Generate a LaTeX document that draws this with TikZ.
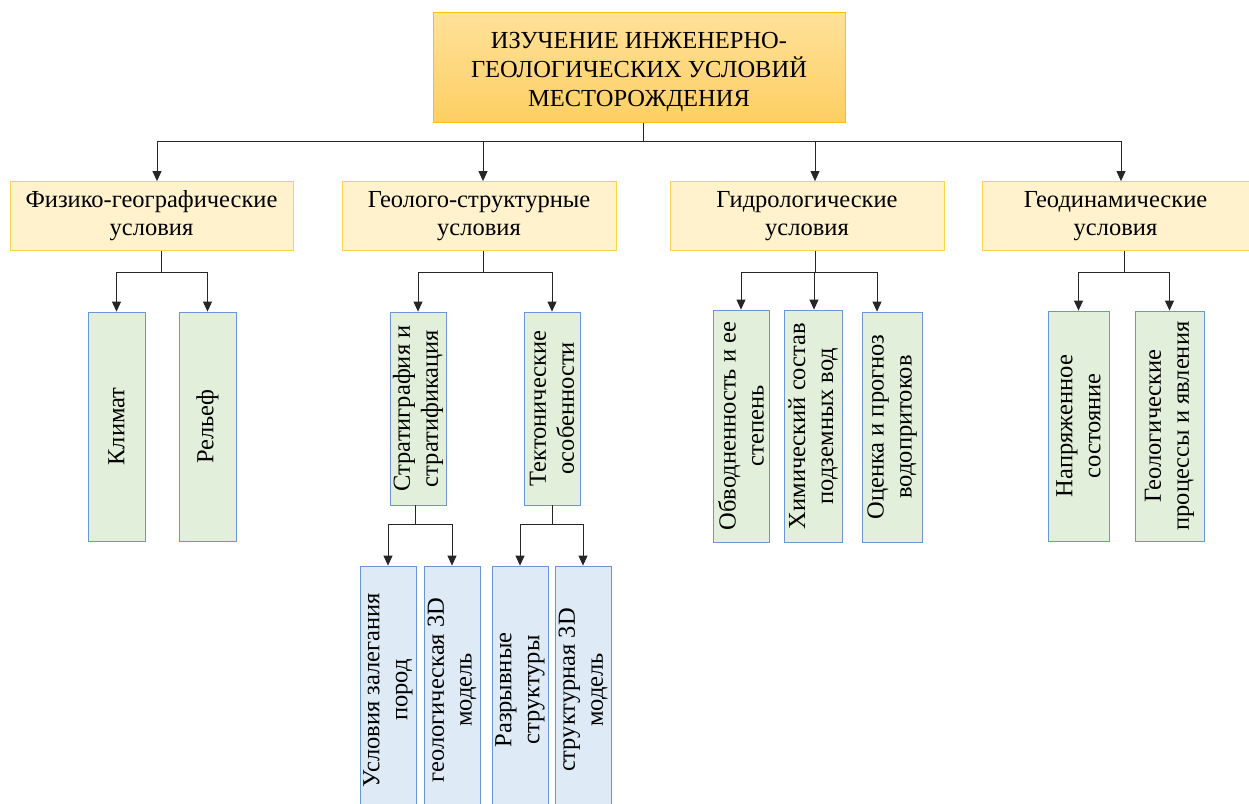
\documentclass[tikz,border=0pt]{standalone}
\usepackage{fontspec}
\setmainfont{Liberation Serif}
\usetikzlibrary{arrows.meta}

\definecolor{goldline}{HTML}{FFC000}
\definecolor{goldtop}{HTML}{FFE19A}
\definecolor{goldbot}{HTML}{FDCF63}
\definecolor{yelline}{HTML}{FFD24D}
\definecolor{yelfill}{HTML}{FFF2CC}
\definecolor{blueline}{HTML}{6A96D8}
\definecolor{greenfill}{HTML}{E2EFDA}
\definecolor{bluefill}{HTML}{DEEBF7}

\tikzset{
  topbox/.style={draw=goldline, line width=1pt, top color=goldtop, bottom color=goldbot,
    minimum width=412, minimum height=110, align=center, inner sep=0,
    font=\fontsize{24.5}{29}\selectfont},
  groupbox/.style={draw=yelline, line width=0.8pt, fill=yelfill, minimum height=69,
    align=center, inner sep=0, font=\fontsize{24.5}{28}\selectfont},
  leafbox/.style={draw=blueline, line width=0.8pt, fill=greenfill, rotate=90,
    align=center, inner sep=0, font=\fontsize{24.5}{28}\selectfont},
  subbox/.style={leafbox, fill=bluefill},
  arr/.style={-{Triangle[length=10pt,width=9pt]}, line width=0.8pt, draw=black!85}
}

\begin{document}
\begin{tikzpicture}[x=1pt,y=-1pt]
\useasboundingbox (0,0) rectangle (1249,803);
\clip (0,0) rectangle (1249,803);

% main box
\node[topbox] (main) at (639,67) {\parbox{400pt}{\centering\vspace*{10pt}ИЗУЧЕНИЕ ИНЖЕНЕРНО-\\ГЕОЛОГИЧЕСКИХ УСЛОВИЙ\\МЕСТОРОЖДЕНИЯ}};

% groups
\node[groupbox, minimum width=283] (phys) at (151.5,216) {Физико-географические\\условия};
\node[groupbox, minimum width=274] (geol) at (479,216) {Геолого-структурные\\условия};
\node[groupbox, minimum width=274] (hydro) at (807,216) {Гидрологические\\условия};
\node[groupbox, minimum width=267] (geodyn) at (1115.5,216) {Геодинамические\\условия};

% bus
\draw[line width=0.8pt, black!85] ([xshift=4]main.south) -- ++(0,19) coordinate (bus);
\draw[arr] (bus) -| ([xshift=5.5]phys.north);
\draw[arr] (bus) -| ([xshift=4]geol.north);
\draw[arr] (bus) -| ([xshift=8]hydro.north);
\draw[arr] (bus) -| ([xshift=5.5]geodyn.north);

% physical geography
\node[leafbox, minimum width=229, minimum height=57] (klimat) at (116.5,426.5) {Климат};
\node[leafbox, minimum width=229, minimum height=57] (relief) at (207.5,426.5) {Рельеф};
\draw[arr] ([xshift=9.5]phys.south) -- ++(0,21) -| (klimat.east);
\draw[arr] ([xshift=9.5]phys.south) -- ++(0,21) -| (relief.east);

% geological structure
\node[leafbox, minimum width=193, minimum height=56] (strat) at (418,408.5) {Стратиграфия и\\стратификация};
\node[leafbox, minimum width=193, minimum height=56] (tekt) at (552,408.5) {Тектонические\\особенности};
\draw[arr] ([xshift=4]geol.south) -- ++(0,21) -| (strat.east);
\draw[arr] ([xshift=4]geol.south) -- ++(0,21) -| (tekt.east);

\node[subbox, minimum width=248, minimum height=56] (uslov) at (388,690) {Условия залегания\\пород};
\node[subbox, minimum width=248, minimum height=56] (geomod) at (452,690) {геологическая 3D\\модель};
\node[subbox, minimum width=248, minimum height=56] (razryv) at (520,690) {Разрывные\\структуры};
\node[subbox, minimum width=248, minimum height=56] (strmod) at (583,690) {структурная 3D\\модель};
\draw[arr] ([xshift=-3]strat.west) -- ++(0,19) -| (uslov.east);
\draw[arr] ([xshift=-3]strat.west) -- ++(0,19) -| (geomod.east);
\draw[arr] (tekt.west) -- ++(0,19) -| (razryv.east);
\draw[arr] (tekt.west) -- ++(0,19) -| (strmod.east);

% hydrology
\node[leafbox, minimum width=232, minimum height=56] (obvod) at (741,426) {Обводненность и ее\\степень};
\node[leafbox, minimum width=232, minimum height=58] (chem) at (813,426) {Химический состав\\подземных вод};
\node[leafbox, minimum width=230, minimum height=60] (ocenka) at (892,427) {Оценка и прогноз\\водопритоков};
\draw[arr] ([xshift=8]hydro.south) -- ++(0,21) -| (obvod.east);
\draw[arr] ([xshift=8]hydro.south) -- ++(0,21) -| ([xshift=1]chem.east);
\draw[arr] ([xshift=8]hydro.south) -- ++(0,21) -| ([xshift=-15]ocenka.east);

% geodynamics
\node[leafbox, minimum width=230, minimum height=61] (napr) at (1078.5,426) {Напряженное\\состояние};
\node[leafbox, minimum width=230, minimum height=69] (proc) at (1169.5,426) {Геологические\\процессы и явления};
\draw[arr] ([xshift=8.5]geodyn.south) -- ++(0,21) -| (napr.east);
\draw[arr] ([xshift=8.5]geodyn.south) -- ++(0,21) -| (proc.east);

\end{tikzpicture}
\end{document}
